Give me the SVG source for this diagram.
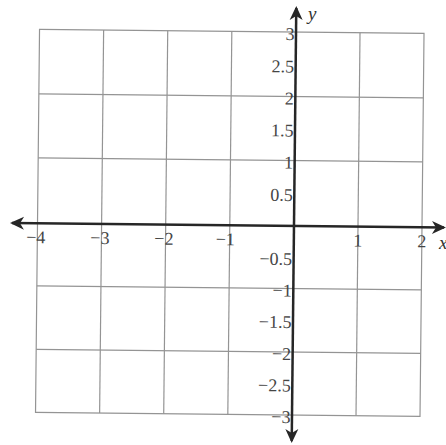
<svg xmlns="http://www.w3.org/2000/svg" width="446" height="445" viewBox="0 0 446 445">
  <style>
    .grid { stroke: #949494; stroke-width: 1.2; fill: none; }
    .axis { stroke: #262626; stroke-width: 2.5; fill: none; }
    .lbl { font-family: "Liberation Serif", "Times New Roman", serif; font-size: 18px; fill: #454545; }
    .ylbl { text-anchor: end; }
    .mid { text-anchor: middle; }
    .end { text-anchor: end; }
    .var { font-family: "Liberation Serif", "Times New Roman", serif; font-size: 19px; font-style: italic; fill: #333; }
  </style>
  <defs>
    <marker id="arr" viewBox="-16 -8 18 16" refX="-2" refY="0" markerWidth="18" markerHeight="16" markerUnits="userSpaceOnUse" orient="auto-start-reverse">
      <path d="M0,0 L-14,-6.5 L-10,0 L-14,6.5 Z" fill="#262626"/>
    </marker>
  </defs>
  <rect x="0" y="0" width="446" height="445" fill="#ffffff"/>
  <g transform="rotate(0.6 294 225)">
    <g id="grid" class="grid">
      <rect x="37.5" y="32" width="384.5" height="383"/>
      <line x1="101.6" y1="32" x2="101.6" y2="415"/>
      <line x1="165.7" y1="32" x2="165.7" y2="415"/>
      <line x1="229.8" y1="32" x2="229.8" y2="415"/>
      <line x1="358" y1="32" x2="358" y2="415"/>
      <line x1="37.5" y1="96.5" x2="422" y2="96.5"/>
      <line x1="37.5" y1="160.5" x2="422" y2="160.5"/>
      <line x1="37.5" y1="288.5" x2="422" y2="288.5"/>
      <line x1="37.5" y1="352" x2="422" y2="352"/>
    </g>
    <g id="axes">
      <line class="axis" x1="12" y1="226" x2="444" y2="226" marker-start="url(#arr)" marker-end="url(#arr)"/>
      <line class="axis" x1="294" y1="8" x2="294" y2="441" marker-start="url(#arr)" marker-end="url(#arr)"/>
    </g>
    <g id="y-labels" class="lbl ylbl">
      <text x="292.5" y="40">3</text>
      <text x="292.5" y="72.5">2.5</text>
      <text x="292.5" y="104.5">2</text>
      <text x="292.5" y="136.5">1.5</text>
      <text x="292.5" y="168.5">1</text>
      <text x="292.5" y="201">0.5</text>
      <text x="292.5" y="265">−0.5</text>
      <text x="292.5" y="296.5">−1</text>
      <text x="292.5" y="328">−1.5</text>
      <text x="292.5" y="360">−2</text>
      <text x="292.5" y="391.5">−2.5</text>
      <text x="292.5" y="423">−3</text>
    </g>
    <g id="x-labels" class="lbl">
      <text class="end" x="45.5" y="246">−4</text>
      <text class="end" x="109.6" y="246">−3</text>
      <text class="end" x="173.7" y="246">−2</text>
      <text class="end" x="235" y="246">−1</text>
      <text class="mid" x="358" y="246">1</text>
      <text class="mid" x="422" y="246">2</text>
    </g>
  </g>
  <g id="axis-names">
    <text class="var" x="308" y="20">y</text>
    <text class="var" x="439" y="249">x</text>
  </g>
</svg>
